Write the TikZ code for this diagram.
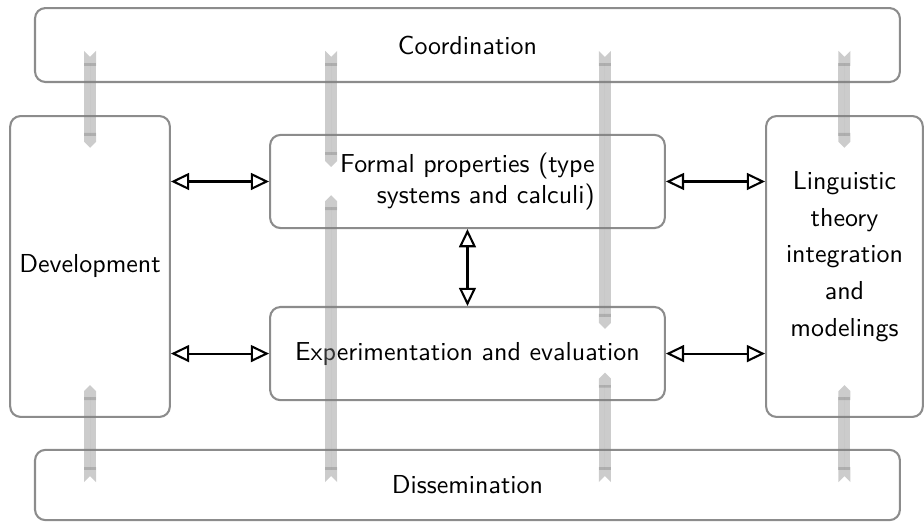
\documentclass[tikz,border=0pt]{standalone}
\usepackage{tikz}
\usetikzlibrary{arrows.meta, positioning, calc}

\begin{document}
\begin{tikzpicture}[
    node distance=1.04cm and 1.35cm,
    font=\sffamily,
    box/.style={draw=gray!90, rounded corners=4pt, thick, align=center},
    wide/.style={box, minimum width=11.70cm, minimum height=1.0cm},
    side/.style={box, minimum width=2.15cm, minimum height=4.07cm},
    work/.style={box, minimum width=5.34cm, minimum height=1.26cm},
    biarrow/.style={{Triangle[open,length=7pt,width=6.5pt]}-{Triangle[open,length=7pt,width=6.5pt]}, thick},
    flow/.style={{Triangle Cap[reversed]}-{Triangle Cap}, line width=4.6pt, draw=gray, fill=gray, opacity=0.4},
]
    \useasboundingbox (0,0) rectangle (12.5,-7.089);

    % Boxes
    \node[wide] (coord) at (6.324,-0.609) {Coordination};
    \node[wide, minimum height=0.95cm] (diss) at (6.324,-6.561) {Dissemination};
    \node[work, align=right] (formal) at (6.324,-2.455) {Formal properties (type\\systems and calculi)};
    \node[work, below=of formal] (exper) {Experimentation and evaluation};
    \node[side, minimum width=2.16cm] (dev) at (1.218,-3.605) {Development};
    \node[side, minimum width=2.12cm, text depth=0.34cm] (ling) at (11.424,-3.605)
        {Linguistic\\[2.1pt]theory\\[2.1pt]integration\\[2.1pt]and\\[2.1pt]modelings};

    % Links between the work packages
    \draw[biarrow] (dev.east |- formal) -- (formal.west);
    \draw[biarrow] (dev.east |- exper) -- (exper.west);
    \draw[biarrow] (formal.east) -- (ling.west |- formal);
    \draw[biarrow] (exper.east) -- (ling.west |- exper);
    \draw[biarrow] (formal) -- (exper);

    % Coordination and dissemination flows
    \coordinate (c2) at ($(formal.west)+(0.84,0)$);
    \coordinate (c3) at ($(formal.east)+(-0.825,0)$);

    \draw[flow] ($(dev |- coord)+(0,-0.08)$) -- ++(0,-1.31);
    \draw[flow] ($(c2 |- coord)+(0,-0.08)$) -- ++(0,-1.57);
    \draw[flow] ($(c3 |- coord)+(0,-0.08)$) -- ++(0,-3.76);
    \draw[flow] ($(ling |- coord)+(0,-0.08)$) -- ++(0,-1.31);

    \draw[flow] ($(dev |- diss)+(0,0.04)$) -- ++(0,1.31);
    \draw[flow] ($(c2 |- diss)+(0,0.04)$) -- ++(0,3.88);
    \draw[flow] ($(c3 |- diss)+(0,0.04)$) -- ++(0,1.48);
    \draw[flow] ($(ling |- diss)+(0,0.04)$) -- ++(0,1.31);

\end{tikzpicture}
\end{document}
